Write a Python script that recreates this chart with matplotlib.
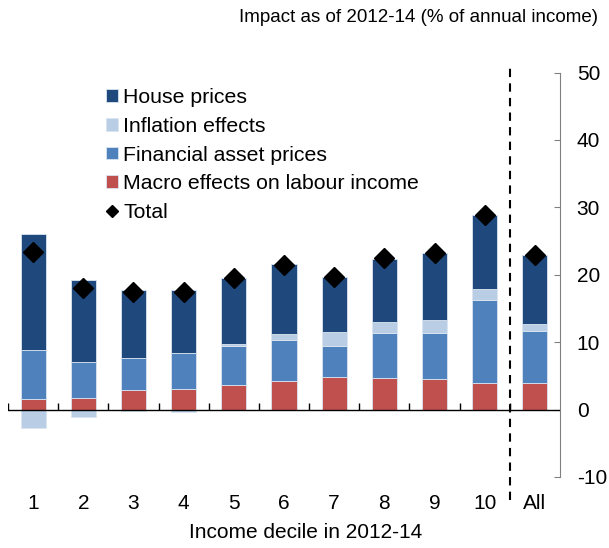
import numpy as np
import matplotlib.pyplot as plt
from matplotlib.lines import Line2D

plt.rcParams['font.family'] = ['Liberation Sans', 'DejaVu Sans']
plt.rcParams['axes.unicode_minus'] = False

# data (% of annual income)
categories = ['1', '2', '3', '4', '5', '6', '7', '8', '9', '10', 'All']
macro = [1.6, 1.7, 2.9, 3.0, 3.7, 4.3, 4.8, 4.7, 4.5, 3.9, 3.95]
financial = [7.3, 5.4, 4.7, 5.4, 5.8, 6.0, 4.7, 6.6, 6.8, 12.3, 7.65]
inflation = [-2.7, -1.1, -0.25, -0.3, 0.2, 0.9, 2.0, 1.7, 2.0, 1.7, 1.1]
house = [17.1, 12.1, 10.1, 9.3, 9.8, 10.4, 8.2, 9.4, 9.9, 10.9, 10.2]
total = [23.4, 18.1, 17.5, 17.5, 19.5, 21.5, 19.7, 22.5, 23.2, 28.8, 22.9]

series = [('Macro effects on labour income', macro, '#C0504D'),
          ('Financial asset prices', financial, '#4F81BD'),
          ('Inflation effects', inflation, '#B9CDE5'),
          ('House prices', house, '#1F497D')]

fig = plt.figure(figsize=(6.09, 5.48), dpi=100)
ax = fig.add_axes([8/609, 1-477/548, 552/609, (477-72.5)/548])

x = np.arange(len(categories))
pos_bottom = np.zeros(len(x))
neg_bottom = np.zeros(len(x))
handles = {}
for name, vals, col in series:
    vals = np.array(vals)
    bottom = np.where(vals >= 0, pos_bottom, neg_bottom)
    b = ax.bar(x, vals, 0.5, bottom=bottom, color=col, edgecolor='#dbe5f1',
               linewidth=0.6, zorder=2)
    handles[name] = b
    pos_bottom += np.where(vals >= 0, vals, 0)
    neg_bottom += np.where(vals < 0, vals, 0)

ax.plot(x, total, 'D', color='black', ms=10, ls='none', zorder=3)

ax.set_xlim(-0.5, 10.5)
ax.set_ylim(-10, 50)

# x axis line at zero with small up-ticks between categories
ax.axhline(0, color='black', lw=1, zorder=4)
bounds = np.arange(-0.5, 10.5, 1)
ax.plot(bounds, np.zeros(len(bounds)), ls='none', marker=2, ms=5,
        color='black', mew=1, zorder=4)

# divider between deciles and "All"
ax.plot([9.5, 9.5], [-13.4, 51], color='black', lw=1.5, ls=(0, (4, 3)),
        clip_on=False, zorder=4)

for s in ['top', 'left', 'bottom']:
    ax.spines[s].set_visible(False)
ax.spines['right'].set_color('#808080')
ax.yaxis.tick_right()
ax.set_yticks([-10, 0, 10, 20, 30, 40, 50])
ax.tick_params(axis='y', direction='in', length=4, pad=12, labelsize=15,
               color='#808080')
ax.set_xticks(x)
ax.set_xticklabels(categories)
ax.tick_params(axis='x', length=0, pad=12, labelsize=15)

fig.text(306/609, 1-532/548, 'Income decile in 2012-14', ha='center',
         va='center', fontsize=15)
fig.text(598/609, 1-18/548, 'Impact as of 2012-14 (% of annual income)',
         ha='right', va='center', fontsize=13.5)

order = ['House prices', 'Inflation effects', 'Financial asset prices',
         'Macro effects on labour income']
tot_handle = Line2D([], [], marker='D', color='black', ls='none', ms=6)
leg = ax.legend([handles[n] for n in order] + [tot_handle], order + ['Total'],
                loc='upper left', bbox_to_anchor=(106/609, 1-88/548),
                bbox_transform=fig.transFigure, frameon=False, fontsize=15.3,
                handlelength=0.55, handleheight=0.55, handletextpad=0.25,
                labelspacing=0.46, borderaxespad=0, borderpad=0)

fig.savefig('out.png', dpi=100)
